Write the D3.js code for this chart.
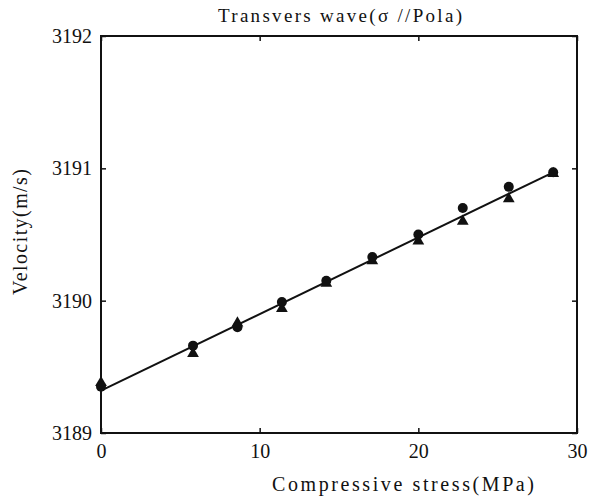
<!DOCTYPE html>
<html>
<head>
<meta charset="utf-8">
<script src="https://cdn.jsdelivr.net/npm/d3@7"></script>
<style>
  body { margin: 0; background: #fff; }
  text { font-family: "Liberation Serif", "DejaVu Serif", serif; fill: #111; }
</style>
</head>
<body>
<div id="chart"></div>
<script>
// values
var stress   = [0, 5.8, 8.6, 11.4, 14.2, 17.1, 20.0, 22.8, 25.7, 28.5];
var velCirc  = [3189.35, 3189.66, 3189.80, 3189.99, 3190.15, 3190.33, 3190.50, 3190.70, 3190.86, 3190.97];
var velTri   = [3189.38, 3189.60, 3189.83, 3189.94, 3190.13, 3190.30, 3190.45, 3190.60, 3190.77, 3190.96];
var fitLine  = [{x: 0, y: 3189.32}, {x: 28.5, y: 3190.97}];
var xTicks   = [0, 10, 20, 30];
var yTicks   = [3189, 3190, 3191, 3192];

var width = 597, height = 498;
var margin = {top: 36, right: 20, bottom: 65, left: 101};
var w = width - margin.left - margin.right,
    h = height - margin.top - margin.bottom;

var svg = d3.select("#chart").append("svg")
    .attr("width", width)
    .attr("height", height);

var g = svg.append("g")
    .attr("transform", "translate(" + margin.left + "," + margin.top + ")");

var x = d3.scaleLinear().domain([0, 30]).range([0, w]);
var y = d3.scaleLinear().domain([3189, 3192]).range([h, 0]);

// inward ticks on all four sides
function styleAxis(sel) {
  sel.select(".domain").remove();
  sel.selectAll(".tick line").attr("stroke", "#111").attr("stroke-width", 1.5);
  sel.selectAll(".tick text").style("font-size", "20px");
}

g.append("g")
    .attr("transform", "translate(0," + h + ")")
    .call(d3.axisBottom(x).tickValues(xTicks).tickFormat(d3.format("d"))
      .tickSizeInner(-5).tickPadding(11))
    .call(styleAxis);

g.append("g")
    .call(d3.axisTop(x).tickValues(xTicks).tickFormat("").tickSizeInner(-5))
    .call(styleAxis);

g.append("g")
    .call(d3.axisLeft(y).tickValues(yTicks).tickFormat(d3.format("d"))
      .tickSizeInner(-5).tickPadding(9))
    .call(styleAxis);

g.append("g")
    .attr("transform", "translate(" + w + ",0)")
    .call(d3.axisRight(y).tickValues(yTicks).tickFormat("").tickSizeInner(-5))
    .call(styleAxis);

// frame
g.append("rect")
    .attr("width", w)
    .attr("height", h)
    .attr("fill", "none")
    .attr("stroke", "#111")
    .attr("stroke-width", 2);

// fitted line
g.append("path")
    .datum(fitLine)
    .attr("fill", "none")
    .attr("stroke", "#111")
    .attr("stroke-width", 2)
    .attr("d", d3.line()
      .x(function(d) { return x(d.x); })
      .y(function(d) { return y(d.y); }));

// triangles
g.selectAll(".tri")
    .data(stress)
    .enter().append("path")
    .attr("class", "tri")
    .attr("transform", function(d, i) { return "translate(" + x(d) + "," + y(velTri[i]) + ")"; })
    .attr("d", d3.symbol().type(d3.symbolTriangle).size(60))
    .attr("fill", "#111");

// circles
g.selectAll(".circ")
    .data(stress)
    .enter().append("circle")
    .attr("class", "circ")
    .attr("cx", function(d) { return x(d); })
    .attr("cy", function(d, i) { return y(velCirc[i]); })
    .attr("r", 5)
    .attr("fill", "#111");

// titles
svg.append("text")
    .attr("x", 340)
    .attr("y", 22)
    .attr("text-anchor", "middle")
    .style("font-size", "19px")
    .attr("textLength", 244)
    .text("Transvers wave(\u03C3 //Pola)");

svg.append("text")
    .attr("x", 403)
    .attr("y", 491)
    .attr("text-anchor", "middle")
    .style("font-size", "20px")
    .attr("textLength", 262)
    .text("Compressive stress(MPa)");

svg.append("text")
    .attr("transform", "translate(27,232) rotate(-90)")
    .attr("text-anchor", "middle")
    .style("font-size", "20px")
    .attr("textLength", 126)
    .text("Velocity(m/s)");
</script>
</body>
</html>
